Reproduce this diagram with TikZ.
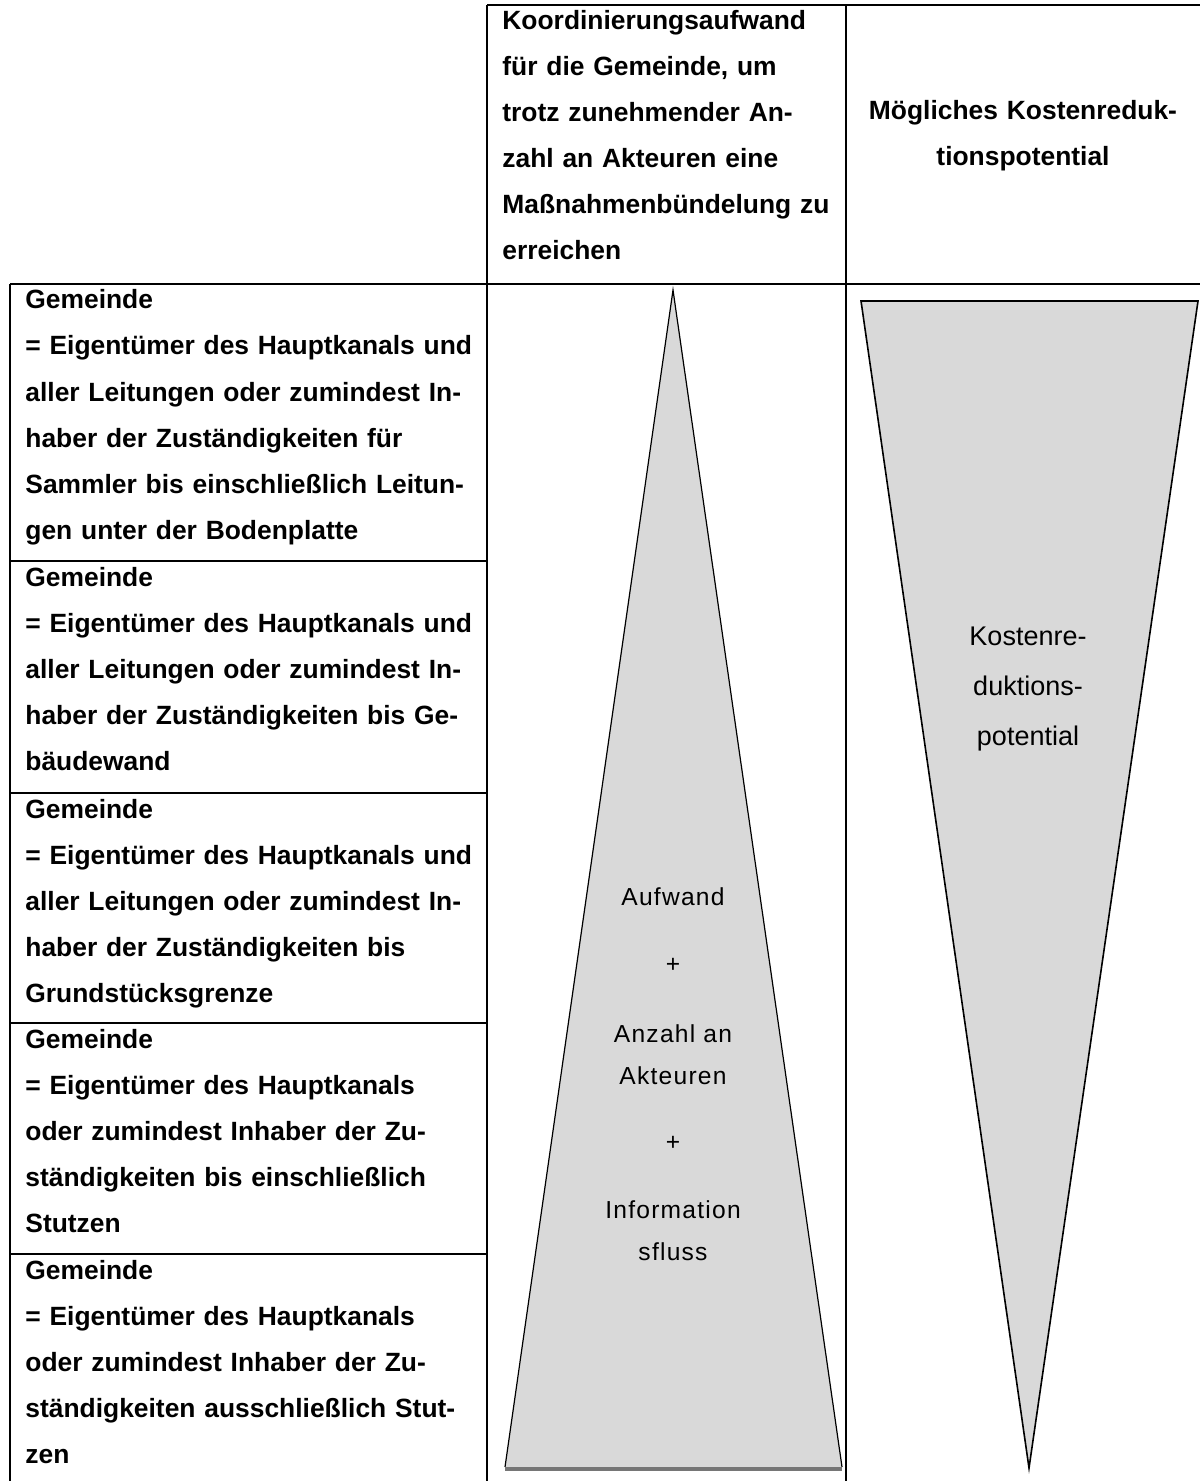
\documentclass[tikz,border=0pt]{standalone}
\usepackage{fontspec}
\setmainfont{Liberation Sans}
\newfontfamily\pixfont[LetterSpace=5]{Liberation Sans}
\definecolor{wedgegray}{RGB}{217,217,217}
\definecolor{shadowgray}{RGB}{118,118,118}
\tikzset{
    rule/.style={black, line width=1pt},
    celltext/.style={anchor=base west, inner sep=0pt, text width=235pt, align=left, font=\bfseries\fontsize{13.2}{23}\selectfont},
    wedgetext/.style={anchor=base, inner sep=0pt, text width=110pt, align=center, font=\pixfont\fontsize{12.3}{21}\selectfont}
}
\begin{document}
\begin{tikzpicture}[x=0.5pt,y=-0.5pt]
                \useasboundingbox (0,0) rectangle (1200,1481);
                \draw[rule] (487,5) -- (1200,5);
                \draw[rule] (10,284) -- (1200,284);
                \draw[rule] (487,5) -- (487,1481);
                \draw[rule] (846,5) -- (846,1481);
                \draw[rule] (10,284) -- (10,1481);
                \foreach \y in {561,793,1023,1254}
                    \draw[rule] (10,\y) -- (487,\y);
                \coordinate (aufTop) at (673,290);
                \coordinate (aufLeft) at (505,1467);
                \coordinate (aufRight) at (842,1467);
                \fill[wedgegray] (aufTop) -- (aufRight) -- (aufLeft) -- cycle;
                \draw[black, line width=0.6pt] (aufLeft) -- (aufTop) -- (aufRight);
                \draw[shadowgray, line width=1.6pt] ([yshift=-1pt]aufLeft) -- ([yshift=-1pt]aufRight);
                \coordinate (kostLeft) at (861,301);
                \coordinate (kostRight) at (1198,301);
                \coordinate (kostTip) at (1029,1468);
                \draw[black, line width=0.8pt, fill=wedgegray] (kostLeft) -- (kostRight) -- (kostTip) -- cycle;
                \node[celltext, text width=180pt] (headKoord) at (502,30) {Koordinierungsaufwand\\für die Gemeinde, um\\trotz zunehmender An-\\zahl an Akteuren eine\\Maßnahmenbündelung zu\\erreichen};
                \node[celltext, anchor=base, text width=170pt, align=center] (headKosten) at (1023,120) {Mögliches Kostenreduk-\\tionspotential};
                \node[celltext] (rowSammler) at (25,309) {Gemeinde\\= Eigentümer des Hauptkanals und\\aller Leitungen oder zumindest In-\\haber der Zuständigkeiten für\\Sammler bis einschließlich Leitun-\\gen unter der Bodenplatte};
                \node[celltext] (rowWand) at (25,586) {Gemeinde\\= Eigentümer des Hauptkanals und\\aller Leitungen oder zumindest In-\\haber der Zuständigkeiten bis Ge-\\bäudewand};
                \node[celltext] (rowGrenze) at (25,818) {Gemeinde\\= Eigentümer des Hauptkanals und\\aller Leitungen oder zumindest In-\\haber der Zuständigkeiten bis\\Grundstücksgrenze};
                \node[celltext] (rowStutzenEin) at (25,1048) {Gemeinde\\= Eigentümer des Hauptkanals\\oder zumindest Inhaber der Zu-\\ständigkeiten bis einschließlich\\Stutzen};
                \node[celltext] (rowStutzenAus) at (25,1279) {Gemeinde\\= Eigentümer des Hauptkanals\\oder zumindest Inhaber der Zu-\\ständigkeiten ausschließlich Stut-\\zen};
                \node[anchor=base, inner sep=0pt, text width=150pt, align=center, font=\fontsize{13.5}{25}\selectfont] (kostLabel) at (1028,645) {Kostenre-\\duktions-\\potential};
                \node[wedgetext] (aufLabel) at (673,905) {Aufwand};
                \node[wedgetext] (plusA) at (673,972) {+};
                \node[wedgetext] (anzahlLabel) at (673,1042) {Anzahl an\\Akteuren};
                \node[wedgetext] (plusB) at (673,1150) {+};
                \node[wedgetext] (infoLabel) at (673,1218) {Information\\sfluss};
            \end{tikzpicture}
\end{document}
